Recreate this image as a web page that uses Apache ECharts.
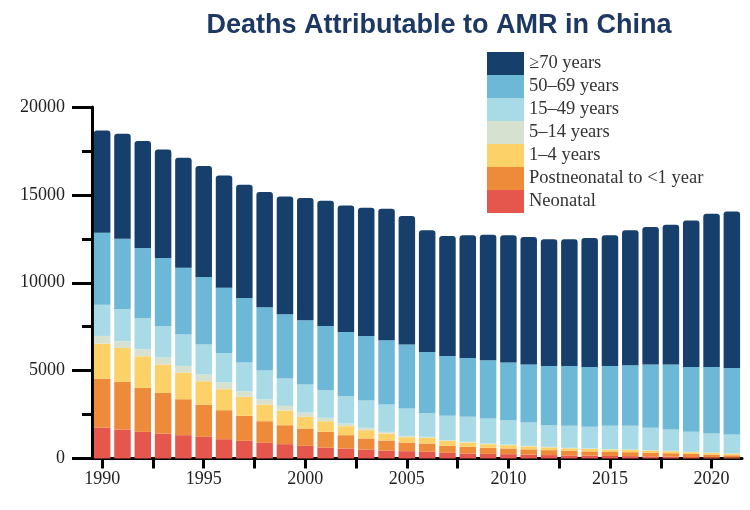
<!DOCTYPE html>
<html>
<head>
<meta charset="utf-8">
<script src="https://cdn.jsdelivr.net/npm/echarts@6/dist/echarts.min.js"></script>
<style>html,body{margin:0;padding:0;background:#fff}#c{width:750px;height:510px}</style>
</head>
<body>
<div id="c"></div>
<script>
const years = [1990,1991,1992,1993,1994,1995,1996,1997,1998,1999,2000,2001,2002,2003,2004,2005,2006,2007,2008,2009,2010,2011,2012,2013,2014,2015,2016,2017,2018,2019,2020,2021];
const neonatal     = [1762,1649,1516,1421,1327,1232,1099,1004,891,815,720,625,569,512,455,417,379,322,284,265,246,220,195,175,160,145,135,120,105,85,72,55];
const postneonatal = [2786,2710,2501,2312,2046,1838,1649,1422,1231,1080,986,891,758,625,568,493,474,398,379,341,323,300,280,260,245,230,225,210,195,170,155,130];
const age1to4      = [1990,1932,1801,1611,1516,1326,1194,1080,948,834,663,606,511,474,398,303,322,284,247,209,189,170,160,145,140,132,130,122,116,105,97,85];
const age5to14     = [436,379,398,398,379,379,379,322,303,265,246,190,152,132,95,76,57,38,38,38,38,30,28,26,24,24,22,22,20,19,17,14];
const age15to49    = [1781,1820,1781,1781,1781,1706,1686,1630,1630,1554,1592,1573,1573,1554,1554,1554,1364,1384,1421,1421,1383,1327,1232,1251,1231,1326,1345,1269,1213,1137,1080,1080];
const age50to69    = [4093,4017,3979,3885,3809,3847,3714,3676,3600,3657,3657,3657,3638,3677,3657,3638,3468,3411,3354,3316,3279,3297,3373,3411,3411,3411,3449,3601,3695,3695,3790,3790];
const age70plus    = [5818,5969,6083,6178,6254,6310,6387,6443,6557,6709,6955,7125,7201,7295,7486,7315,6917,6822,6974,7144,7239,7258,7201,7201,7334,7429,7675,7826,7959,8338,8717,8907];

const seriesNames = ['Neonatal','Postneonatal to <1 year','1–4 years','5–14 years','15–49 years','50–69 years','≥70 years'];
const seriesData  = [neonatal, postneonatal, age1to4, age5to14, age15to49, age50to69, age70plus];
const colors = ['#e5564c','#ee8b3b','#fcd268','#d6e2cf','#a8dbe6','#6db8d6','#173f6b'];
const xTickValues = [1990,1992.5,1995,1997.5,2000,2002.5,2005,2007.5,2010,2012.5,2015,2017.5,2020];
const xLabelValues = [1990,1995,2000,2005,2010,2015,2020];

const chart = echarts.init(document.getElementById('c'), null, {renderer:'canvas'});
const series = seriesNames.map((name, i) => ({
  name: name,
  type: 'bar',
  stack: 'total',
  xAxisIndex: 0,
  barWidth: 16.5,
  itemStyle: { color: colors[i], borderRadius: i === 6 ? [3,3,0,0] : 0 },
  emphasis: { disabled: true },
  data: seriesData[i]
}));

const serif = 'Liberation Serif, Times New Roman, serif';
chart.setOption({
  animation: false,
  title: {
    text: 'Deaths Attributable to AMR in China',
    left: 434, top: 7, textAlign: 'center',
    textStyle: { fontFamily: 'Liberation Sans, Arial, sans-serif', fontWeight: 'bold', fontSize: 27, color: '#1c3863' }
  },
  legend: {
    orient: 'vertical',
    left: 482, top: 47,
    itemWidth: 37, itemHeight: 23, itemGap: 0,
    icon: 'rect',
    data: seriesNames.slice().reverse(),
    textStyle: { fontFamily: serif, fontSize: 18.5, color: '#333', lineHeight: 23 },
    selectedMode: false
  },
  grid: { left: 92, right: 8, top: 107, bottom: 51.5, containLabel: false },
  xAxis: [
    {
      type: 'category', data: years.map(String), boundaryGap: true, show: false
    },
    {
      type: 'value', min: 1989.5, max: 2021.5, position: 'bottom',
      axisLine: { show: true, onZero: false, lineStyle: { color: '#000', width: 3 } },
      axisTick: { show: true, customValues: xTickValues, length: 10, lineStyle: { color: '#000', width: 3 } },
      axisLabel: { show: false },
      splitLine: { show: false }
    },
    {
      type: 'value', min: 1989.5, max: 2021.5, position: 'bottom',
      axisLine: { show: false, onZero: false },
      axisTick: { show: true, customValues: xLabelValues, length: 10, lineStyle: { color: '#000', width: 3 } },
      axisLabel: { customValues: xLabelValues, margin: 12, fontFamily: serif, fontSize: 18, color: '#222', formatter: v => String(v) },
      splitLine: { show: false }
    }
  ],
  yAxis: {
    type: 'value',
    min: 0, max: 20000, interval: 5000,
    axisLine: { show: true, lineStyle: { color: '#000', width: 3 } },
    axisTick: { show: true, length: 20, lineStyle: { color: '#000', width: 3 } },
    minorTick: { show: true, splitNumber: 2, length: 10, lineStyle: { color: '#000', width: 3 } },
    axisLabel: { margin: 27, fontFamily: serif, fontSize: 18, color: '#222', formatter: v => String(v) },
    splitLine: { show: false }
  },
  series: series
});
</script>
</body>
</html>
